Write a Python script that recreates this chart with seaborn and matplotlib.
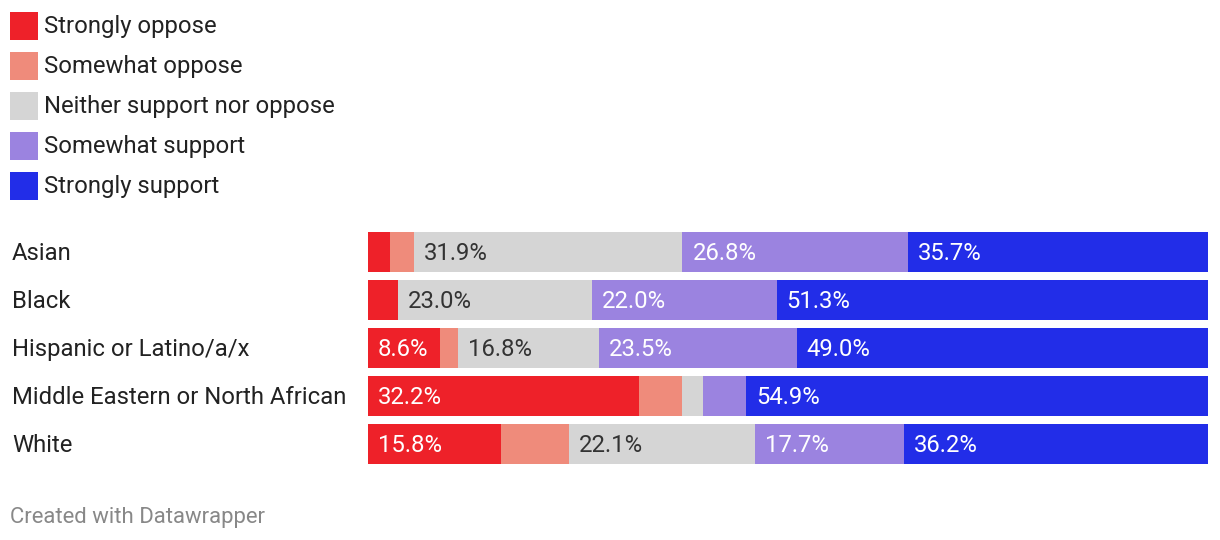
import numpy as np
import pandas as pd
import matplotlib
matplotlib.use("Agg")
import matplotlib.pyplot as plt
import seaborn as sns
from matplotlib.patches import Rectangle

groups = ["Asian", "Black", "Hispanic or Latino/a/x",
          "Middle Eastern or North African", "White"]
categories = ["Strongly oppose", "Somewhat oppose", "Neither support nor oppose",
              "Somewhat support", "Strongly support"]
strongly_oppose = [2.6, 3.6, 8.6, 32.2, 15.8]
somewhat_oppose = [2.9, 0.0, 2.1, 5.2, 8.1]
neither = [31.9, 23.0, 16.8, 2.4, 22.1]
somewhat_support = [26.8, 22.0, 23.5, 5.2, 17.7]
strongly_support = [35.7, 51.3, 49.0, 54.9, 36.2]

colors = ["#ee2129", "#ef8b7b", "#d5d5d5", "#9b83e0", "#222de8"]
label_colors = ["white", "#333333", "#333333", "white", "white"]

sns.set_theme(style="white")
plt.rcParams["font.family"] = ["Roboto", "DejaVu Sans"]

series = [strongly_oppose, somewhat_oppose, neither, somewhat_support, strongly_support]
vals = np.array(series)  # shape (5 cats, 5 groups)
cum = np.cumsum(vals, axis=0)
starts = cum - vals

fig = plt.figure(figsize=(12.2, 5.4), dpi=100)
ax = fig.add_axes([368 / 1220, 1 - 468 / 540, 840 / 1220, 240 / 540])

for k in range(len(categories) - 1, -1, -1):
    df = pd.DataFrame({"group": groups, "value": cum[k]})
    sns.barplot(data=df, x="value", y="group", orient="h", color=colors[k],
                saturation=1, width=40 / 48, linewidth=0, ax=ax, order=groups)

ax.set_xlim(0, 99.9)
ax.set_ylim(len(groups) - 0.5, -0.5)
ax.axis("off")

px = 99.9 / 840  # data units per pixel
FS = 17.2
for k in range(len(categories)):
    for i, g in enumerate(groups):
        v = vals[k, i]
        if v >= 8.5:
            ax.text(starts[k, i] + 10 * px, i + 0.04, f"{v:.1f}%", va="center", ha="left",
                    fontsize=FS, color=label_colors[k])

# group labels
for i, g in enumerate(groups):
    ax.text(-356 * px, i + 0.04, g, va="center", ha="left", fontsize=FS, color="#222222",
            clip_on=False)

# legend
for k, c in enumerate(categories):
    y_top = 12 + 40 * k
    fig.patches.append(Rectangle((10 / 1220, 1 - (y_top + 28) / 540), 28 / 1220, 28 / 540,
                                 transform=fig.transFigure, facecolor=colors[k],
                                 edgecolor="none"))
    fig.text(44 / 1220, 1 - (y_top + 15) / 540, c, va="center", ha="left",
             fontsize=FS, color="#222222")

fig.text(10 / 1220, 1 - 518 / 540, "Created with Datawrapper", va="center", ha="left",
         fontsize=15.9, color="#888888")

fig.savefig("out.png", dpi=100, facecolor="white")
